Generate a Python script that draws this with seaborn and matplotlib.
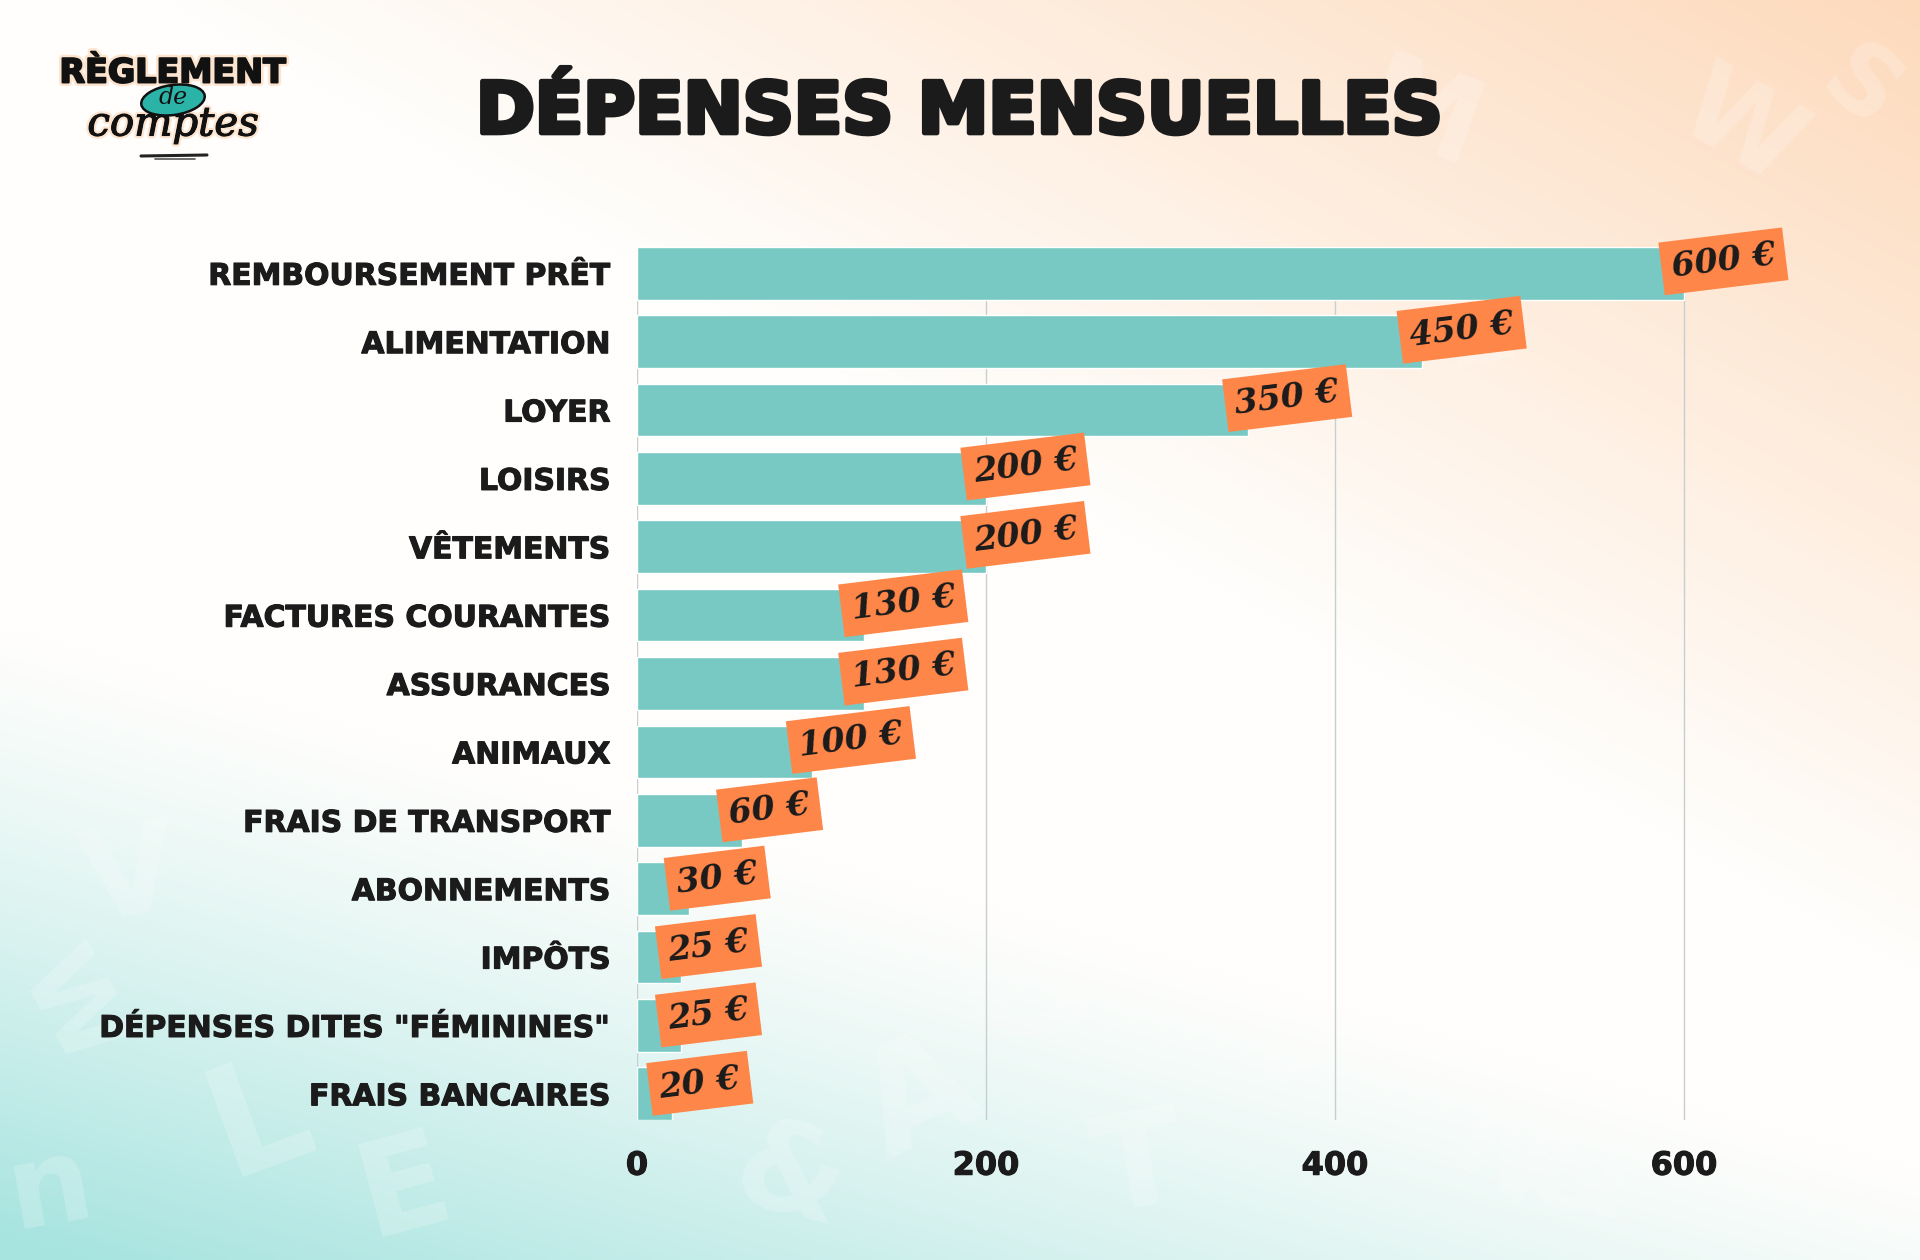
import numpy as np
import pandas as pd
import matplotlib
matplotlib.use("Agg")
import matplotlib.pyplot as plt
import seaborn as sns
from matplotlib.patches import Ellipse
from matplotlib import patheffects as pe

categories = ["REMBOURSEMENT PRÊT", "ALIMENTATION", "LOYER", "LOISIRS", "VÊTEMENTS",
              "FACTURES COURANTES", "ASSURANCES", "ANIMAUX", "FRAIS DE TRANSPORT",
              "ABONNEMENTS", "IMPÔTS", 'DÉPENSES DITES "FÉMININES"', "FRAIS BANCAIRES"]
amounts = [600, 450, 350, 200, 200, 130, 130, 100, 60, 30, 25, 25, 20]
x_ticks = [0, 200, 400, 600]
title = "DÉPENSES MENSUELLES"

df = pd.DataFrame({"poste": categories, "montant": amounts})

sns.set_style("white")
plt.rcParams["font.family"] = ["DejaVu Sans"]

W, H = 1920, 1260
INK = "#1b1b1b"
fig = plt.figure(figsize=(19.2, 12.6), dpi=100)

# background gradient: peach top right, teal bottom left
bg = fig.add_axes([0, 0, 1, 1], zorder=0)
xx, yy = np.meshgrid(np.linspace(0, 1, 480), np.linspace(0, 1, 315))
white = np.array([255, 254, 252]) / 255
peach = np.array([253, 218, 188]) / 255
teal = np.array([168, 228, 224]) / 255
p = np.clip(1.1 * xx - 1.3 * yy - 0.1, 0, 1)
t = np.clip((yy - 0.5) / 0.48 - 0.9 * xx, 0, 1) ** 1.2
img = white[None, None, :] * (1 - p - t)[..., None] + peach * p[..., None] + teal * t[..., None]
bg.imshow(img, extent=(0, W, H, 0), aspect="auto", interpolation="bilinear")
bg.set_xlim(0, W)
bg.set_ylim(H, 0)
bg.axis("off")

# faint background letters
deco = [("M", 1420, 120, -20, 85), ("W", 1740, 130, -30, 80), ("S", 1860, 90, -40, 70),
        ("O", 1030, 990, 0, 120), ("&", 790, 1180, -15, 90),
        ("A", 920, 1100, 25, 105), ("L", 260, 1120, 20, 110), ("E", 405, 1190, 15, 95),
        ("V", 130, 880, 10, 90), ("T", 1140, 1170, 10, 95), ("a", 1290, 1040, 30, 85),
        ("&", 1580, 1180, -10, 85), ("W", 70, 1010, -60, 75), ("E", 1480, 330, 10, 80),
        ("M", 1260, 900, 30, 80), ("N", 1500, 1160, -30, 85), ("n", 50, 1190, 10, 85)]
for ch, dx, dy, rot, fs in deco:
    bg.text(dx, dy, ch, fontsize=fs, fontweight="bold", color="white", alpha=0.2,
            rotation=rot, ha="center", va="center", zorder=1)

# logo
logo_fx = [pe.withStroke(linewidth=4, foreground="#fde4cf")]
bg.text(173, 73, "RÈGLEMENT", fontsize=24, fontweight="bold", color="#111111",
        ha="center", va="center", zorder=3,
        path_effects=[pe.withStroke(linewidth=5, foreground="#fde4cf"),
                      pe.withStroke(linewidth=1.4, foreground="#111111")])
bg.add_patch(Ellipse((173, 100), 64, 30, angle=-8, facecolor="#2bb3a8",
                     edgecolor="#111111", lw=1.8, zorder=4))
bg.text(173, 98, "de", fontsize=17, family="DejaVu Serif", style="italic",
        color="#111111", ha="center", va="center", zorder=5)
bg.text(173, 125, "comptes", fontsize=29, family="DejaVu Serif", style="italic",
        color="#111111", ha="center", va="center", zorder=3,
        path_effects=[pe.withStroke(linewidth=4, foreground="#fde4cf"),
                      pe.withStroke(linewidth=0.8, foreground="#111111")])
bg.plot([141, 207], [156, 155], color="#222222", lw=2.2, solid_capstyle="round", zorder=3)
bg.plot([155, 195], [159, 159], color="#555555", lw=1.2, solid_capstyle="round", zorder=3)

# title
fig.text(0.5, 0.91, title, fontsize=51, fontweight="bold", color=INK,
         ha="center", va="center",
         path_effects=[pe.withStroke(linewidth=3.5, foreground=INK)])

# bar chart
ax = fig.add_axes([637 / W, 0.111, 700 * (1047 / 600) / W, 0.693], zorder=2)
ax.patch.set_alpha(0)
sns.barplot(data=df, x="montant", y="poste", orient="h", color="#78c9c3",
            saturation=1, width=0.77, ax=ax, zorder=2)
ax.set_xlim(0, 700)
ax.set_ylim(len(categories) - 1 + 0.385, -0.385)
ax.set_xticks(x_ticks)
ax.set_xticklabels([str(v) for v in x_ticks])
for v in x_ticks:
    ax.axvline(v, color="#c6cfcf", lw=1, zorder=1)
sns.despine(ax=ax, left=True, bottom=True)
ax.set_xlabel("")
ax.set_ylabel("")
ax.tick_params(axis="y", length=0, pad=19, labelsize=21.5)
ax.tick_params(axis="x", length=0, pad=22, labelsize=23)
for lab in ax.get_yticklabels() + ax.get_xticklabels():
    lab.set_fontweight("bold")
    lab.set_color(INK)
    lab.set_path_effects([pe.withStroke(linewidth=0.8, foreground=INK)])

# value tags
for i, v in enumerate(amounts):
    ax.annotate(f"{v} €", xy=(v, i), xytext=(-9, 4), textcoords="offset points",
                rotation=7, rotation_mode="anchor", ha="left", va="center",
                fontsize=24, family="DejaVu Serif", fontweight="bold", style="italic",
                color=INK, zorder=5,
                bbox=dict(boxstyle="square,pad=0.3", facecolor="#ff8649", edgecolor="none"))

fig.savefig("out.png", dpi=100)
